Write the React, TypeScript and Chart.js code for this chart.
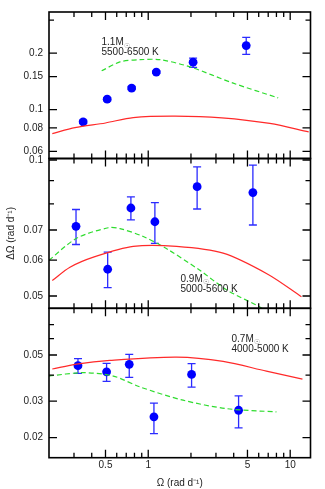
import React, { useEffect, useRef } from 'react';
import { Chart, registerables } from 'chart.js';
Chart.register(...registerables);

// ---------- shared x axis ----------
const X_MIN = 0.2;
const X_MAX = 13.9;
const xTickValues = [0.3, 0.4, 0.5, 0.6, 0.7, 0.8, 0.9, 1, 2, 3, 4, 5, 6, 7, 8, 9, 10];
const xTickLabeled = [0.5, 1, 5, 10];

// ---------- panel 1: 1.1 Msun ----------
const obsX1 = [0.348, 0.514, 0.764, 1.14, 2.07, 4.9];
const obsY1 = [0.0862, 0.1137, 0.1303, 0.1586, 0.179, 0.2195];
const errLo1 = [0.0845, 0.1115, 0.128, 0.156, 0.168, 0.197];
const errHi1 = [0.088, 0.116, 0.133, 0.161, 0.188, 0.2426];
const redX1 = [0.211, 0.305, 0.5, 0.784, 1.54, 3.3, 7.19, 13.5];
const redY1 = [0.0746, 0.0802, 0.085, 0.0908, 0.0924, 0.0905, 0.0845, 0.0762];
const greenX1 = [0.47, 0.632, 0.875, 1.21, 1.97, 3.97, 8.23];
const greenY1 = [0.161, 0.1795, 0.1845, 0.1845, 0.169, 0.1384, 0.1156];
const yTicks1 = [0.06, 0.08, 0.1, 0.15, 0.2, 0.3];
const yLabeled1 = [0.06, 0.08, 0.1, 0.15, 0.2];
const label1 = ['1.1M', '5500-6500 K'];

// ---------- panel 2: 0.9 Msun ----------
const obsX2 = [0.31, 0.518, 0.755, 1.114, 2.21, 5.46];
const obsY2 = [0.0713, 0.0573, 0.0783, 0.073, 0.0873, 0.0847];
const errLo2 = [0.065, 0.0522, 0.0737, 0.0654, 0.0779, 0.0718];
const errHi2 = [0.0777, 0.0625, 0.0829, 0.0805, 0.0966, 0.0974];
const redX2 = [0.211, 0.281, 0.421, 0.784, 1.585, 3.37, 7.0, 12.0];
const redY2 = [0.0541, 0.0579, 0.0611, 0.0644, 0.0644, 0.0622, 0.0558, 0.0498];
const greenX2 = [0.2, 0.313, 0.523, 0.632, 0.923, 1.35, 2.31, 3.56, 6.45, 8.2];
const greenY2 = [0.06, 0.0671, 0.0708, 0.0705, 0.0677, 0.0636, 0.057, 0.0516, 0.0468, 0.044];
const yTicks2 = [0.05, 0.06, 0.07, 0.08, 0.09, 0.1];
const yLabeled2 = [0.05, 0.06, 0.07, 0.1];
const label2 = ['0.9M', '5000-5600 K'];

// ---------- panel 3: 0.7 Msun ----------
const obsX3 = [0.32, 0.509, 0.735, 1.097, 2.02, 4.33];
const obsY3 = [0.0444, 0.0415, 0.0451, 0.0252, 0.0403, 0.0271];
const errLo3 = [0.0408, 0.0373, 0.039, 0.0209, 0.035, 0.0223];
const errHi3 = [0.048, 0.0456, 0.0504, 0.0293, 0.0454, 0.0318];
const redX3 = [0.211, 0.313, 0.537, 1.585, 3.37, 6.8, 12.2];
const redY3 = [0.0428, 0.0452, 0.0471, 0.0488, 0.0466, 0.0418, 0.0383];
const greenX3 = [0.2, 0.348, 0.567, 0.874, 1.76, 3.56, 8.0];
const greenY3 = [0.0396, 0.0411, 0.0396, 0.0351, 0.0303, 0.0276, 0.0266];
const yTicks3 = [0.02, 0.03, 0.04, 0.05, 0.06, 0.07];
const yLabeled3 = [0.02, 0.03, 0.05];
const label3 = ['0.7M', '4000-5000 K'];

const FONT = "'Liberation Sans', Arial, sans-serif";
const W = 325;
const H = 489;

const zip = (xs: number[], ys: number[]) => xs.map((x, i) => ({ x, y: ys[i] }));

const framePlugin = {
  id: 'frame',
  beforeDatasetsDraw(chart: any, _a: any, opts: any) {
    const { ctx, scales } = chart;
    const xs = scales.x, ys = scales.y;
    ctx.save();
    ctx.strokeStyle = '#2b2bff';
    ctx.lineWidth = 1.3;
    ctx.beginPath();
    opts.errX.forEach((x: number, i: number) => {
      const px = xs.getPixelForValue(x);
      const pl = ys.getPixelForValue(opts.errLo[i]);
      const ph = ys.getPixelForValue(opts.errHi[i]);
      ctx.moveTo(px, pl); ctx.lineTo(px, ph);
      ctx.moveTo(px - 4, pl); ctx.lineTo(px + 4, pl);
      ctx.moveTo(px - 4, ph); ctx.lineTo(px + 4, ph);
    });
    ctx.stroke();
    ctx.restore();
  },
  afterDatasetsDraw(chart: any, _a: any, opts: any) {
    const { ctx, chartArea: a, scales } = chart;
    const xs = scales.x, ys = scales.y;
    ctx.save();
    ctx.strokeStyle = '#000';
    ctx.lineWidth = 1.3;
    ctx.beginPath();
    for (const v of xTickValues) {
      const px = xs.getPixelForValue(v);
      const len = xTickLabeled.includes(v) ? 8 : 5;
      ctx.moveTo(px, a.bottom); ctx.lineTo(px, a.bottom - len);
      ctx.moveTo(px, a.top); ctx.lineTo(px, a.top + len);
    }
    for (const v of opts.yTicks) {
      const py = ys.getPixelForValue(v);
      const len = opts.yLabeled.includes(v) ? 8 : 5;
      ctx.moveTo(a.left, py); ctx.lineTo(a.left + len, py);
      ctx.moveTo(a.right, py); ctx.lineTo(a.right - len, py);
    }
    ctx.stroke();
    ctx.lineWidth = 1.6;
    ctx.strokeRect(a.left, a.top, a.right - a.left, a.bottom - a.top);
    // annotation
    const [l1, l2] = opts.label;
    const tx = a.left + opts.labelDx;
    const ty = a.top + opts.labelDy;
    ctx.fillStyle = '#222';
    ctx.font = `10px ${FONT}`;
    ctx.textAlign = 'left';
    ctx.textBaseline = 'alphabetic';
    ctx.fillText(l1, tx, ty);
    const w1 = ctx.measureText(l1).width;
    ctx.fillStyle = '#777';
    ctx.font = `7px 'DejaVu Sans', sans-serif`;
    ctx.fillText('\u2609', tx + w1 + 0.3, ty + 2.5);
    ctx.fillStyle = '#222';
    ctx.font = `10px ${FONT}`;
    ctx.fillText(l2, tx, ty + 10);
    ctx.restore();
  },
};

type PanelCfg = {
  obsX: number[]; obsY: number[]; errLo: number[]; errHi: number[];
  redX: number[]; redY: number[]; greenX: number[]; greenY: number[];
  yTicks: number[]; yLabeled: number[]; yMin: number; yMax: number;
  top: number; bottom: number; isBottom: boolean; yTitle: boolean;
  label: string[]; labelDx: number; labelDy: number;
};

function Panel({ cfg }: { cfg: PanelCfg }) {
  const ref = useRef<HTMLCanvasElement>(null);
  useEffect(() => {
    const xAxisH = cfg.isBottom ? H - cfg.bottom : 0;
    const chart = new Chart(ref.current as HTMLCanvasElement, {
      type: 'scatter',
      data: {
        datasets: [
          {
            data: zip(cfg.redX, cfg.redY), showLine: true, pointRadius: 0,
            borderColor: '#ff2a2a', borderWidth: 1.2, tension: 0.3,
          },
          {
            data: zip(cfg.greenX, cfg.greenY), showLine: true, pointRadius: 0,
            borderColor: '#2fdc2f', borderWidth: 1.2, borderDash: [5, 3], tension: 0.3,
          },
          {
            data: zip(cfg.obsX, cfg.obsY), pointRadius: 4.4, pointBorderWidth: 0,
            backgroundColor: '#0000ff', borderColor: '#0000ff',
          },
        ],
      } as any,
      options: {
        responsive: false,
        animation: false,
        devicePixelRatio: 1,
        layout: {
          padding: { left: 4, right: 14.5, top: cfg.top, bottom: cfg.isBottom ? 0 : H - cfg.bottom },
        },
        plugins: {
          legend: { display: false },
          tooltip: { enabled: false },
          frame: {
            yTicks: cfg.yTicks, yLabeled: cfg.yLabeled,
            errX: cfg.obsX, errLo: cfg.errLo, errHi: cfg.errHi,
            label: cfg.label, labelDx: cfg.labelDx, labelDy: cfg.labelDy,
          },
        } as any,
        scales: {
          x: {
            type: 'logarithmic',
            min: X_MIN,
            max: X_MAX,
            display: cfg.isBottom,
            afterBuildTicks: (s: any) => { s.ticks = xTickValues.map((v) => ({ value: v })); },
            afterFit: (s: any) => { s.height = xAxisH; },
            grid: { display: false, drawTicks: false },
            border: { display: false },
            ticks: {
              autoSkip: false, maxRotation: 0, padding: 2, color: '#222',
              font: { family: FONT, size: 10 },
              callback: (v: any) => (xTickLabeled.includes(Number(v)) ? String(v) : ''),
            },
            title: {
              display: true, text: '\u03A9 (rad d\u207B\u00B9)', color: '#222',
              font: { family: FONT, size: 10 }, padding: { top: 0, bottom: 0 },
            },
          },
          y: {
            type: 'logarithmic',
            position: 'left',
            min: cfg.yMin,
            max: cfg.yMax,
            afterBuildTicks: (s: any) => { s.ticks = cfg.yTicks.map((v) => ({ value: v })); },
            afterFit: (s: any) => { s.width = 45; },
            grid: { display: false, drawTicks: false },
            border: { display: false },
            ticks: {
              autoSkip: false, padding: 6, color: '#222',
              font: { family: FONT, size: 10 },
              callback: (v: any) => (cfg.yLabeled.includes(Number(v)) ? String(v) : ''),
            },
            title: {
              display: cfg.yTitle, text: '\u0394\u03A9 (rad d\u207B\u00B9)', color: '#222',
              font: { family: FONT, size: 10 }, padding: { top: 1, bottom: 0 },
            },
          },
        } as any,
      },
      plugins: [framePlugin as any],
    });
    return () => chart.destroy();
  }, []);
  return (
    <canvas
      ref={ref}
      width={W}
      height={H}
      style={{ position: 'absolute', left: 0, top: 0, width: W, height: H }}
    />
  );
}

const panels: PanelCfg[] = [
  {
    obsX: obsX1, obsY: obsY1, errLo: errLo1, errHi: errHi1,
    redX: redX1, redY: redY1, greenX: greenX1, greenY: greenY1,
    yTicks: yTicks1, yLabeled: yLabeled1, yMin: 0.055, yMax: 0.331,
    top: 9, bottom: 158.5, isBottom: false, yTitle: false,
    label: label1, labelDx: 52.5, labelDy: 33.3,
  },
  {
    obsX: obsX2, obsY: obsY2, errLo: errLo2, errHi: errHi2,
    redX: redX2, redY: redY2, greenX: greenX2, greenY: greenY2,
    yTicks: yTicks2, yLabeled: yLabeled2, yMin: 0.04696, yMax: 0.10077,
    top: 158.5, bottom: 308.3, isBottom: false, yTitle: true,
    label: label2, labelDx: 131.5, labelDy: 123.2,
  },
  {
    obsX: obsX3, obsY: obsY3, errLo: errLo3, errHi: errHi3,
    redX: redX3, redY: redY3, greenX: greenX3, greenY: greenY3,
    yTicks: yTicks3, yLabeled: yLabeled3, yMin: 0.01602, yMax: 0.0839,
    top: 308.3, bottom: 457.7, isBottom: true, yTitle: false,
    label: label3, labelDx: 182.5, labelDy: 33.4,
  },
];

export default function App() {
  return (
    <div style={{ position: 'fixed', left: 0, top: 0, width: W, height: H, background: '#fff' }}>
      {panels.map((p, i) => (
        <Panel key={i} cfg={p} />
      ))}
    </div>
  );
}
